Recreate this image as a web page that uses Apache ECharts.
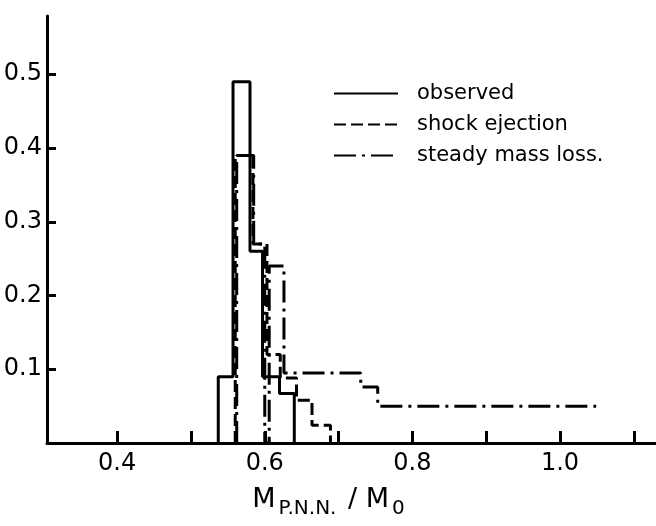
<!DOCTYPE html>
<html>
<head>
<meta charset="utf-8">
<script src="https://cdn.jsdelivr.net/npm/echarts@6/dist/echarts.min.js"></script>
<style>
  html, body { margin: 0; padding: 0; background: #fff; }
  #chart { width: 656px; height: 526px; }
</style>
</head>
<body>
<div id="chart"></div>
<script>
// Bin edges and heights of the three mass distributions
const observedEdges = [0.537, 0.557, 0.580, 0.597, 0.620, 0.640];
const observedValues = [0.09, 0.49, 0.26, 0.09, 0.067];

const shockEdges = [0.560, 0.584, 0.603, 0.621, 0.643, 0.664, 0.689];
const shockValues = [0.39, 0.27, 0.12, 0.088, 0.058, 0.024];

const steadyEdges = [0.562, 0.585, 0.600, 0.606, 0.626, 0.730, 0.753, 1.049];
const steadyValues = [0.39, 0.27, 0, 0.24, 0.095, 0.076, 0.05];

const seriesNames = ['observed', 'shock ejection', 'steady mass loss.'];

const xTickValues = [0.4, 0.5, 0.6, 0.7, 0.8, 0.9, 1.0, 1.1];
const xLabelValues = [0.4, 0.6, 0.8, 1.0];
const yTickValues = [0.1, 0.2, 0.3, 0.4, 0.5];

const FONT = 'DejaVu Sans';

// Turn bin edges + heights into an outline traced with step:'end'.
// closeRight=false leaves the last bin open on its right side.
function outline(edges, values, closeRight) {
  const pts = [[edges[0], 0]];
  values.forEach((v, i) => pts.push([edges[i], v]));
  const last = edges[edges.length - 1];
  pts.push([last, closeRight ? 0 : values[values.length - 1]]);
  return pts;
}

const chart = echarts.init(document.getElementById('chart'), null, { renderer: 'canvas' });

const lineBase = { color: '#000', width: 3 };

chart.setOption({
  animation: false,
  backgroundColor: '#fff',
  color: ['#000', '#000', '#000'],
  grid: { left: 47, right: 0, top: 16, bottom: 83, containLabel: false },
  legend: {
    orient: 'vertical',
    left: 328,
    top: 78,
    itemWidth: 64,
    itemHeight: 14,
    itemGap: 10,
    data: seriesNames,
    itemStyle: { opacity: 0 },
    textStyle: { fontSize: 21, fontFamily: FONT, color: '#000', padding: [0, 0, 0, 14] }
  },
  xAxis: {
    type: 'value',
    min: 0.305,
    max: 1.13,
    splitLine: { show: false },
    axisLine: { show: true, onZero: false, lineStyle: { color: '#000', width: 3 } },
    axisTick: { show: true, inside: true, length: 12, customValues: xTickValues,
                lineStyle: { color: '#000', width: 3 } },
    axisLabel: { customValues: xLabelValues, formatter: v => v.toFixed(1),
                 fontSize: 24, fontFamily: FONT, color: '#000', margin: 9 },
    name: '{m|M}{s|P.N.N.}{m| / M}{s|0}',
    nameLocation: 'middle',
    nameGap: 43,
    nameTextStyle: {
      padding: [0, 43, 0, 0],
      rich: {
        m: { fontSize: 27, fontFamily: FONT, color: '#000', verticalAlign: 'bottom', padding: [0, 0, 6, 0] },
        s: { fontSize: 20, fontFamily: FONT, color: '#000', verticalAlign: 'bottom', padding: [0, 3, 0, 3] }
      }
    }
  },
  yAxis: {
    type: 'value',
    min: 0,
    max: 0.579,
    splitLine: { show: false },
    axisLine: { show: true, onZero: false, lineStyle: { color: '#000', width: 3 } },
    axisTick: { show: true, inside: true, length: 9, customValues: yTickValues,
                lineStyle: { color: '#000', width: 3 } },
    axisLabel: { customValues: yTickValues, formatter: v => v.toFixed(1),
                 fontSize: 24, fontFamily: FONT, color: '#000', margin: 5 }
  },
  series: [
    {
      name: seriesNames[0], type: 'line', step: 'end', symbol: 'none',
      data: outline(observedEdges, observedValues, true),
      lineStyle: Object.assign({ type: 'solid' }, lineBase), z: 3
    },
    {
      name: seriesNames[1], type: 'line', step: 'end', symbol: 'none',
      data: outline(shockEdges, shockValues, true),
      lineStyle: Object.assign({ type: [12, 5] }, lineBase), z: 4
    },
    {
      name: seriesNames[2], type: 'line', step: 'end', symbol: 'none',
      data: outline(steadyEdges, steadyValues, false),
      lineStyle: Object.assign({ type: [22, 6, 3, 6] }, lineBase), z: 5
    }
  ]
});
</script>
</body>
</html>
